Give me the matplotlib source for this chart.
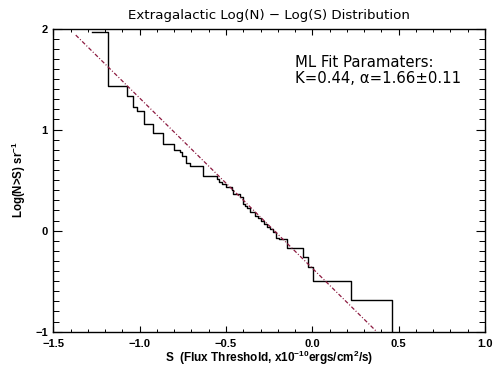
import matplotlib
matplotlib.use('Agg')
import matplotlib.pyplot as plt
from matplotlib.ticker import MultipleLocator

plt.rcParams['font.family'] = ['Liberation Sans', 'DejaVu Sans']
plt.rcParams['mathtext.default'] = 'regular'

# step curve: flux threshold where each level starts, and log N(>S) level
flux = [-1.274, -1.182, -1.072, -1.037, -1.014, -0.975, -0.924, -0.867,
        -0.801, -0.766, -0.757, -0.732, -0.708, -0.631, -0.550, -0.541,
        -0.525, -0.500, -0.467, -0.458, -0.419, -0.403, -0.390, -0.380,
        -0.361, -0.332, -0.313, -0.299, -0.280, -0.264, -0.245, -0.226,
        -0.210, -0.191, -0.145, -0.056, -0.023, 0.006, 0.222, 0.463]
logN = [1.97, 1.434, 1.335, 1.226, 1.187, 1.052, 0.963, 0.857,
        0.798, 0.775, 0.739, 0.672, 0.643, 0.536, 0.508, 0.484,
        0.461, 0.427, 0.402, 0.362, 0.333, 0.261, 0.247, 0.221,
        0.187, 0.148, 0.122, 0.095, 0.063, 0.039, 0.016, -0.016,
        -0.070, -0.086, -0.175, -0.264, -0.363, -0.498, -0.686, -1.0]

# ML fit line end points
fit_x = [-1.37, 0.373]
fit_y = [1.935, -1.0]

fit_text = ['ML Fit Paramaters:', 'K=0.44, \u03b1=1.66\u00b10.11']

fig = plt.figure(figsize=(4.94, 3.67), dpi=100)
ax = fig.add_axes([0.1079, 0.0962, 0.8739, 0.8261])

ax.step(flux, logN, where='post', color='black', lw=1.0)
ax.plot(fit_x, fit_y, color='#8c1a40', lw=0.9, dashes=[3.2, 1.6, 0.8, 1.6])

ax.set_xlim(-1.5, 1.0)
ax.set_ylim(-1, 2)
ax.xaxis.set_major_locator(MultipleLocator(0.5))
ax.xaxis.set_minor_locator(MultipleLocator(0.1))
ax.yaxis.set_major_locator(MultipleLocator(1))
ax.yaxis.set_minor_locator(MultipleLocator(0.1))
ax.xaxis.set_major_formatter(plt.FuncFormatter(lambda v, p: ('%.1f' % v).replace('-', '\u2212')))
ax.yaxis.set_major_formatter(plt.FuncFormatter(lambda v, p: ('%d' % round(v)).replace('-', '\u2212')))

ax.tick_params(axis='x', which='major', direction='in', length=4.5, width=0.8,
               top=True, labelsize=8, pad=5)
ax.tick_params(axis='x', which='minor', direction='in', length=2.2, width=0.7, top=True)
ax.tick_params(axis='y', which='major', direction='in', length=6.5, width=0.8,
               right=True, labelsize=8, pad=4)
ax.tick_params(axis='y', which='minor', direction='in', length=4.5, width=0.7, right=True)
for lab in ax.get_xticklabels() + ax.get_yticklabels():
    lab.set_fontweight('bold')
for s in ax.spines.values():
    s.set_linewidth(1.0)

ax.set_title('Extragalactic Log(N) \u2212 Log(S) Distribution', fontsize=9.6,
             family='DejaVu Sans', pad=7)
ax.set_xlabel('S  (Flux Threshold, x10$^{-10}$ergs/cm$^{2}$/s)', fontsize=8.5,
              fontweight='bold', labelpad=0)
ax.set_ylabel('Log(N>S) sr$^{-1}$', fontsize=8.3, fontweight='bold', labelpad=5)

ax.text(0.56, 0.874, fit_text[0], transform=ax.transAxes, fontsize=10.7,
        family='DejaVu Sans')
ax.text(0.56, 0.819, fit_text[1], transform=ax.transAxes, fontsize=10.7,
        family='DejaVu Sans')

fig.savefig('out.png', dpi=100)
